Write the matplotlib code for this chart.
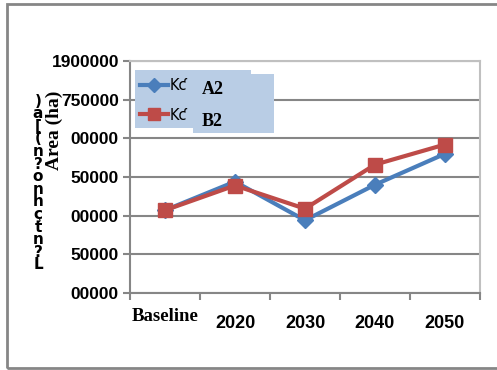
import matplotlib.pyplot as plt
from matplotlib.patches import Rectangle

W, H = 497, 370

categories = ["Baseline", "2020", "2030", "2040", "2050"]
a2 = [1707000, 1744000, 1694000, 1740000, 1780000]
b2 = [1707000, 1739000, 1709000, 1766000, 1792000]
y_ticks = [1600000, 1650000, 1700000, 1750000, 1800000, 1850000, 1900000]
y_labels = ["00000", "50000", "00000", "50000", "00000", "750000", "1900000"]
side_glyphs = [")", "a", "[", "(", "n", "?", "o", "n", "h", "ç", "t", "n", "?", "L"]

sans = ["Liberation Sans", "DejaVu Sans"]
serif = ["Liberation Serif", "DejaVu Serif"]
blue = "#4a7ebb"
red = "#be4b48"
grey = "#868686"
legend_bg = "#b9cde5"

fig = plt.figure(figsize=(W / 100, H / 100), dpi=100)

# outer chart border
fig.patches.append(Rectangle((7 / W, 2 / H), 600 / W, 364 / H, transform=fig.transFigure,
                             fill=False, edgecolor=grey, lw=2))

ax = fig.add_axes([130 / W, 1 - 293 / H, 350 / W, 232 / H])
x = list(range(len(categories)))
ax.plot(x, a2, color=blue, lw=3, marker="D", ms=8, label="Kƈ", zorder=3)
ax.plot(x, b2, color=red, lw=3, marker="s", ms=9.5, label="Kƈ", zorder=4)

ax.set_xlim(-0.5, 4.5)
ax.set_ylim(1600000, 1900000)
ax.set_yticks(y_ticks, y_labels)
ax.set_xticks([i - 0.5 for i in range(6)], [""] * 6)
ax.yaxis.grid(True, color=grey, lw=1.5, zorder=1)
ax.tick_params(direction="out", length=5, width=1.5, color=grey, pad=3)
for lab in ax.get_yticklabels():
    lab.set_family(sans)
    lab.set_fontweight("bold")
    lab.set_fontsize(12.5)

for side in ["left", "bottom"]:
    ax.spines[side].set_color(grey)
    ax.spines[side].set_linewidth(1.5)
for side in ["top", "right"]:
    ax.spines[side].set_color("#c0c0c0")
    ax.spines[side].set_linewidth(1.5)

# category labels under the axis
for i, name in enumerate(categories):
    if name == "Baseline":
        ax.text(i, -0.102, name, transform=ax.get_xaxis_transform(), ha="center", va="center",
                family=serif, fontweight="bold", fontsize=13.5)
    else:
        ax.text(i, -0.13, name, transform=ax.get_xaxis_transform(), ha="center", va="center",
                family=sans, fontweight="bold", fontsize=13)

# axis titles
fig.text(38 / W, 1 - 183 / H, "\n".join(side_glyphs), ha="center", va="center",
         fontsize=11, linespacing=0.8, fontweight="bold", family=["DejaVu Sans"])
fig.text(54 / W, 1 - 130 / H, "Area (ha)", rotation=90, ha="center", va="center",
         family=serif, fontweight="bold", fontsize=14)

# legend background
for (x0, y0, w, h) in [(135, 70, 116, 58), (193, 74, 81, 59)]:
    ax.add_patch(Rectangle((x0 / W, 1 - (y0 + h) / H), w / W, h / H, transform=fig.transFigure,
                           facecolor=legend_bg, edgecolor="none", zorder=5, clip_on=False))
leg = ax.legend(loc="upper left", bbox_to_anchor=(140 / W, 1 - 78 / H), bbox_transform=fig.transFigure,
                frameon=False, handlelength=1.9, handletextpad=0.15, labelspacing=1.0,
                borderpad=0, borderaxespad=0, fontsize=10.5, markerscale=0.9)
leg.set_zorder(6)
ax.text(202 / W, 1 - 89 / H, "A2", transform=fig.transFigure, family=serif, fontweight="bold",
        fontsize=13, va="center", zorder=7)
ax.text(202 / W, 1 - 122 / H, "B2", transform=fig.transFigure, family=serif, fontweight="bold",
        fontsize=13, va="center", zorder=7)

fig.savefig("out.png", dpi=100)
